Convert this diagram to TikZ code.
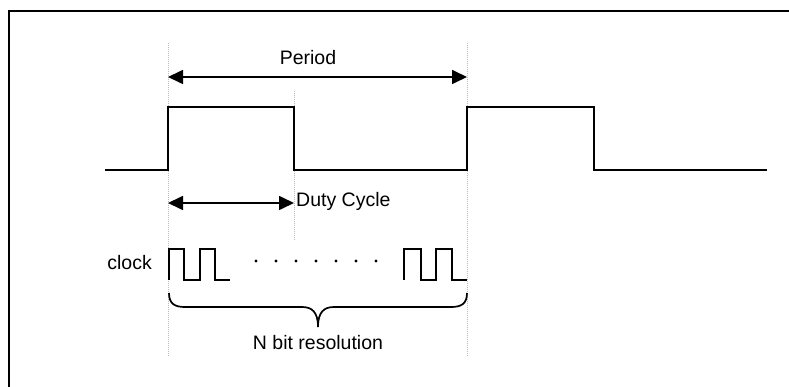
\documentclass[tikz,border=0pt]{standalone}
\usepackage{fontspec}
\setmainfont{Liberation Sans}
\usetikzlibrary{arrows.meta}
\begin{document}
\begin{tikzpicture}[x=1pt,y=-1pt,
  sig/.style={line width=2pt, line join=miter},
  guide/.style={draw=gray!55, line width=0.9pt, dash pattern=on 1pt off 1pt},
  dimarrow/.style={line width=1.7pt, {Triangle[length=15pt,width=14pt]}-{Triangle[length=15pt,width=14pt]}},
  lbl/.style={font=\fontsize{19.5}{22}\selectfont, inner sep=0pt}]
\useasboundingbox (0,0) rectangle (789,387);
% frame
\draw[line width=2pt] (9,387) -- (9,11) -- (789,11);
% guide lines
\coordinate (g1t) at (168,43);  \coordinate (g1b) at (168,357);
\coordinate (g2t) at (294,91);  \coordinate (g2b) at (294,240);
\coordinate (g3t) at (467,43);  \coordinate (g3b) at (467,357);
\draw[guide] (g1t) -- (g1b);
\draw[guide] (g2t) -- (g2b);
\draw[guide] (g3t) -- (g3b);
% period
\coordinate (pa) at (168,77); \coordinate (pb) at (467,77);
\draw[dimarrow] (pa) -- (pb);
\node[lbl] (period) at (308,58) {Period};
% main signal
\draw[sig] (105,170) -- (168,170) -- (168,107) -- (294,107) -- (294,170) -- (467,170) -- (467,107) -- (594,107) -- (594,170) -- (767,170);
% duty cycle
\coordinate (da) at (168,203); \coordinate (db) at (294,203);
\draw[dimarrow] (da) -- (db);
\node[lbl, anchor=west] (duty) at (296,201) {Duty Cycle};
% clock
\node[lbl, anchor=east] (clock) at (152,263) {clock};
\draw[sig] (169,280) -- (169,249) -- (184,249) -- (184,280) -- (200,280) -- (200,249) -- (215,249) -- (215,280) -- (230,280);
\draw[sig] (404,280) -- (404,249) -- (421,249) -- (421,280) -- (436,280) -- (436,249) -- (452,249) -- (452,280) -- (467,280);
\foreach \k in {0,...,6} \fill (256+20*\k,261) circle (1.6pt);
% brace
\draw[line width=1.7pt] (169,293) .. controls (169,304) and (175,307) .. (185,307) -- (302,307)
  .. controls (312,307) and (318,312) .. (318,327)
  .. controls (318,312) and (324,307) .. (334,307) -- (451,307)
  .. controls (461,307) and (467,304) .. (467,293);
\node[lbl] (nbit) at (318,343) {N bit resolution};
\end{tikzpicture}
\end{document}
